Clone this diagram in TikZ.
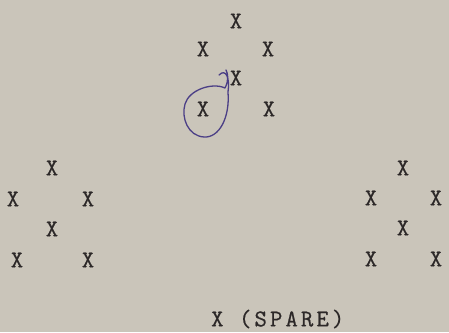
\documentclass[tikz,border=0pt]{standalone}
\usepackage{fontspec}
\newfontfamily\twfont{Latin Modern Mono}[FakeBold=0.6]
\newfontfamily\twwide{Latin Modern Mono}[LetterSpace=13,FakeBold=0.6]
\definecolor{paper}{HTML}{CAC5BA}
\definecolor{ink}{HTML}{2C2828}
\definecolor{pen}{HTML}{4B3F86}
\begin{document}
\begin{tikzpicture}[x=1pt,y=-1pt,
  tw/.style={text=ink,font=\twfont\fontsize{24}{24}\selectfont,inner sep=0pt,anchor=center},
  twline/.style={tw,font=\twwide\fontsize{24}{24}\selectfont,anchor=west}]
\fill[paper] (0,0) rectangle (449,332);
\useasboundingbox (0,0) rectangle (449,332);
% top group
\node[tw] (t1) at (236,21) {X};
\node[tw] (t2) at (203,49) {X};
\node[tw] (t3) at (268,49) {X};
\node[tw] (t4) at (236,78) {X};
\node[tw] (t5) at (203,109) {X};
\node[tw] (t6) at (269,109) {X};
% left group
\node[tw] (l1) at (52,168) {X};
\node[tw] (l2) at (13,199) {X};
\node[tw] (l3) at (88,199) {X};
\node[tw] (l4) at (52,229) {X};
\node[tw] (l5) at (17,260) {X};
\node[tw] (l6) at (88,260) {X};
% right group
\node[tw] (r1) at (403,168) {X};
\node[tw] (r2) at (371,198) {X};
\node[tw] (r3) at (436,198) {X};
\node[tw] (r4) at (403,228) {X};
\node[tw] (r5) at (371,259) {X};
\node[tw] (r6) at (436,259) {X};
% spare
\node[twline] (spare) at (211,319) {X (SPARE)};
% pen circle
\draw[pen,line width=1.3pt,line cap=round,line join=round]
  (219,75) .. controls (226,68) and (230,78) .. (228,92)
  .. controls (230,118) and (219,138) .. (204,137)
  .. controls (188,136) and (181,118) .. (185,104)
  .. controls (189,90) and (212,82) .. (225,88)
  .. controls (229,80) and (228,74) .. (226,70);
\end{tikzpicture}
\end{document}
